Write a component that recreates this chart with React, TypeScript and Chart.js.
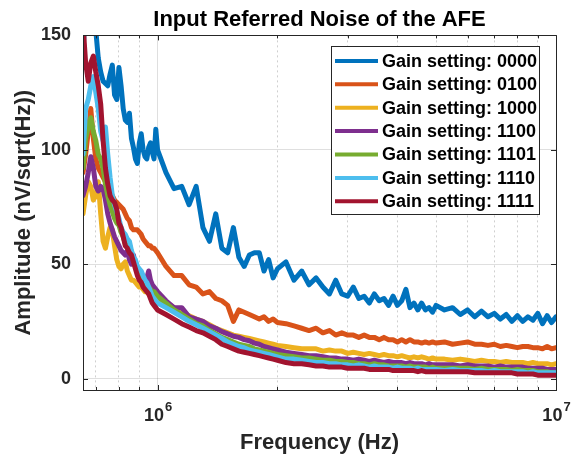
import React, { useEffect, useRef } from "react";
import { Chart, registerables } from "chart.js";

Chart.register(...registerables);

// ---------------- data ----------------
const FREQ_MHZ = [
  0.65, 0.66, 0.67, 0.68, 0.69, 0.7, 0.71, 0.72, 0.73, 0.74,
  0.75, 0.76, 0.77, 0.78, 0.79, 0.8, 0.81, 0.82, 0.83, 0.84,
  0.85, 0.86, 0.87, 0.88, 0.89, 0.9, 0.91, 0.92, 0.93, 0.94,
  0.95, 0.96, 0.97, 0.98, 0.99, 1.0,
  1.05, 1.1, 1.15, 1.2, 1.25, 1.3, 1.35, 1.4, 1.45, 1.5,
  1.55, 1.6, 1.65, 1.7, 1.75, 1.8, 1.85, 1.9, 1.95, 2.0,
  2.1, 2.2, 2.3, 2.4, 2.5, 2.6, 2.7, 2.8, 2.9, 3.0,
  3.1, 3.2, 3.3, 3.4, 3.5, 3.6, 3.7, 3.8, 3.9, 4.0,
  4.1, 4.2, 4.3, 4.4, 4.5, 4.6, 4.7, 4.8, 4.9, 5.0,
  5.25, 5.5, 5.75, 6.0, 6.25, 6.5, 6.75, 7.0, 7.25, 7.5,
  7.75, 8.0, 8.25, 8.5, 8.75, 9.0, 9.25, 9.5, 9.75, 10.0,
];

const GAIN_0000 = [
  144, 160, 165, 162, 158, 152, 140, 134, 130, 129,
  128, 133, 137, 124, 122, 136, 128, 118, 113, 112,
  116, 105, 101, 96, 94, 103, 107, 100, 97, 96,
  101, 103, 99, 96, 109, 100,
  90, 83, 84, 76, 84, 66, 60, 72, 57, 55,
  66, 53, 49, 54, 55, 55, 47, 52, 44, 48,
  51, 43, 47, 41, 44, 40, 37, 43, 37, 36,
  40, 35, 36, 33, 37, 34, 35, 32, 36, 32,
  34, 39, 31, 33, 30, 33, 30, 31, 29, 32,
  30, 31, 28, 30, 27, 29.5, 27, 28.5, 26, 28,
  25, 27.5, 25, 27, 25.5, 28.5, 24, 27.5, 24.5, 27,
];

const GAIN_0100 = [
  90, 98, 108, 118, 105, 96, 92, 90, 88, 86,
  84, 82, 80, 78, 77, 76, 75, 74, 72, 70,
  69, 66, 65, 65, 65, 64, 63, 61, 60, 59,
  58, 58, 57, 57, 56, 55,
  49, 45, 45, 41, 40, 37, 38, 35, 34, 32,
  25, 30, 29, 28, 27, 26, 27, 25, 26, 24.5,
  24, 23, 22, 21, 22, 20, 21, 19, 20, 19,
  19, 18, 19, 18, 18, 17, 18, 17, 17, 16,
  17, 16, 17, 16, 16, 15.5, 16, 15.5, 16, 15.5,
  16, 15, 15.5, 16, 15, 15, 14.5, 15, 14, 14.5,
  14, 13.5, 14, 14, 13.5, 13.5, 13, 14, 13, 13.5,
];

const GAIN_1000 = [
  72, 80, 86, 84, 78, 80, 86, 72, 60, 57,
  62, 66, 65, 58, 52, 49, 48, 50, 51, 47,
  45, 43, 43, 42, 41, 40, 40, 39, 38, 38,
  37, 37, 36, 35, 35, 34,
  33, 31, 29, 27.5, 26, 25, 23.5, 22, 21, 20,
  19, 18.5, 18, 17.5, 17, 16.5, 16, 15.5, 15, 14.5,
  14, 13.5, 13, 13, 13, 12, 12.5, 12, 12, 11,
  11.5, 11, 10.5, 11, 10.5, 10, 10.5, 10, 10, 9.5,
  10, 9.5, 9, 9.5, 9, 9.5, 9, 8.5, 9, 8.5,
  8.5, 8, 8.5, 8, 7.5, 8, 7.5, 7.5, 7, 7.5,
  7, 7, 7, 6.5, 7, 6.5, 6.5, 6.5, 6, 6.5,
];

const GAIN_1100 = [
  80, 84, 90, 97, 92, 84, 82, 84, 83, 78,
  72, 68, 65, 62, 60, 58, 56, 55, 54, 56,
  52, 50, 54, 50, 47, 46, 45, 44, 43, 44,
  47, 43, 41, 40, 39, 38,
  34, 31, 31, 27, 26, 25, 23, 22, 20.5, 19.5,
  18.5, 18, 17, 16.5, 15.5, 15, 14, 13.5, 13, 12.5,
  11.5, 11, 10.5, 10, 10, 9.5, 9, 9, 8.5, 8.5,
  8, 8.5, 8, 7.5, 8, 7.5, 7, 7.5, 7, 7,
  7, 6.5, 7, 6.5, 6.5, 6.5, 6, 6.5, 6, 6,
  6, 6, 5.5, 6, 5.5, 5.5, 5.5, 5, 5.5, 5,
  5, 5, 5, 4.5, 4.5, 4.5, 4.5, 4, 4, 4,
];

const GAIN_1101 = [
  92, 105, 110, 114, 108, 104, 98, 96, 92, 85,
  80, 76, 73, 70, 68, 67, 64, 62, 59, 58,
  56, 54, 52, 49, 47, 46, 45, 43, 42, 41,
  40, 39, 38, 38, 37, 36,
  33, 30, 28, 26, 24, 23, 21, 19.5, 18, 17,
  16, 15, 14.5, 14, 13, 12.5, 12, 11.5, 11, 10.5,
  10, 9.5, 9, 9, 8.5, 8, 8, 7.5, 7.5, 7,
  7, 6.5, 6.5, 6, 6.5, 6, 6, 5.5, 5.5, 5.5,
  5.5, 5, 5.5, 5, 5, 5, 5, 4.5, 5, 4.5,
  4.5, 4.5, 4.5, 4.5, 4, 4.5, 4, 4, 4, 4,
  3.5, 4, 3.5, 3.5, 3.5, 3, 3, 3, 2.5, 2.5,
];

const GAIN_1110 = [
  98, 118, 122, 128, 132, 125, 118, 108, 104, 110,
  98, 88, 80, 76, 73, 70, 66, 64, 63, 61,
  60, 56, 53, 52, 49, 48, 47, 45, 43, 42,
  40, 38, 36, 35, 34, 33,
  31, 29, 27, 25, 23.5, 22, 20.5, 19, 17.5, 16,
  15, 14, 13.5, 12.5, 12, 11.5, 11, 10.5, 10, 9.5,
  8.5, 8.5, 8, 7.5, 7, 7, 6.5, 6.5, 6, 6,
  5.5, 6, 5.5, 5, 5.5, 5, 5, 5, 4.5, 5,
  4.5, 4.5, 4.5, 4, 4.5, 4, 4, 4, 4, 4,
  3.5, 4, 3.5, 3.5, 3.5, 3.5, 3, 3.5, 3, 3,
  3, 3, 3, 2.5, 3, 2.5, 2.5, 2.5, 2.5, 2.5,
];

const GAIN_1111 = [
  155, 138, 130, 138, 141, 134, 128, 120, 104, 92,
  85, 80, 78, 77, 74, 68, 66, 62, 58, 57,
  55, 54, 51, 48, 45, 43, 42, 40, 39, 38,
  37, 35, 33, 32, 31, 30,
  28, 26, 24, 22.5, 21, 20, 18.5, 17, 15, 14,
  13, 12, 11.5, 11, 10.5, 10, 9.5, 9, 8.5, 8,
  7, 6.5, 6.5, 6, 5.5, 5.5, 5, 5, 5, 4.5,
  4.5, 4.5, 4.5, 4, 4, 4, 4, 4, 3.5, 3.5,
  3.5, 3.5, 3.5, 3.5, 3, 3.5, 3, 3, 3, 3,
  3, 3, 3, 3, 2.5, 2.5, 2.5, 2.5, 2.5, 2.5,
  2.5, 2, 2, 2, 2, 1.5, 1.5, 1.5, 1.5, 1.5,
];

const SERIES_LABELS = [
  "Gain setting: 0000",
  "Gain setting: 0100",
  "Gain setting: 1000",
  "Gain setting: 1100",
  "Gain setting: 1101",
  "Gain setting: 1110",
  "Gain setting: 1111",
];
const SERIES_VALUES = [GAIN_0000, GAIN_0100, GAIN_1000, GAIN_1100, GAIN_1101, GAIN_1110, GAIN_1111];
const SERIES_COLORS = ["#0072BD", "#D95319", "#EDB120", "#7E2F8E", "#77AC30", "#4DBEEE", "#A2142F"];

const X_TICKS = [7e5, 8e5, 9e5, 1e6, 2e6, 3e6, 4e6, 5e6, 6e6, 7e6, 8e6, 9e6, 1e7];
const X_LABELED = [
  { value: 1e6, base: "10", exp: "6" },
  { value: 1e7, base: "10", exp: "7" },
];
const Y_TICKS = [0, 50, 100, 150];

const TITLE = "Input Referred Noise of the AFE";
const X_TITLE = "Frequency (Hz)";
const Y_TITLE = "Amplitude (nV/sqrt(Hz))";

// ---------------- style ----------------
const FONT = "'Liberation Sans', Arial, Helvetica, sans-serif";
const AXIS_COLOR = "#262626";
const GRID_MAJOR = "rgba(38,38,38,0.15)";
const GRID_MINOR = "rgba(38,38,38,0.22)";

const isMajorX = (v: number) => v === 1e6 || v === 1e7;

const boxPlugin = {
  id: "matlabBox",
  afterDatasetsDraw(chart: any) {
    const { ctx, chartArea: a, scales } = chart;
    ctx.save();
    ctx.strokeStyle = AXIS_COLOR;
    ctx.lineWidth = 1;
    ctx.beginPath();
    ctx.rect(Math.round(a.left) + 0.5, Math.round(a.top) + 0.5, Math.round(a.right - a.left), Math.round(a.bottom - a.top));
    ctx.stroke();
    ctx.beginPath();
    for (const v of Y_TICKS) {
      const y = Math.round(scales.y.getPixelForValue(v)) + 0.5;
      ctx.moveTo(a.left, y);
      ctx.lineTo(a.left + 5, y);
      ctx.moveTo(a.right, y);
      ctx.lineTo(a.right - 5, y);
    }
    for (const v of X_TICKS) {
      const x = Math.round(scales.x.getPixelForValue(v)) + 0.5;
      const len = isMajorX(v) ? 5 : 3;
      ctx.moveTo(x, a.bottom);
      ctx.lineTo(x, a.bottom - len);
      ctx.moveTo(x, a.top);
      ctx.lineTo(x, a.top + len);
    }
    ctx.stroke();
    ctx.restore();
  },
  afterDraw(chart: any) {
    const { ctx, chartArea: a, scales } = chart;
    ctx.save();
    // x tick labels with superscript exponents
    ctx.fillStyle = AXIS_COLOR;
    ctx.textBaseline = "alphabetic";
    for (const t of X_LABELED) {
      const x = scales.x.getPixelForValue(t.value);
      ctx.font = `bold 18px ${FONT}`;
      const wb = ctx.measureText(t.base).width;
      ctx.font = `bold 13px ${FONT}`;
      const we = ctx.measureText(t.exp).width;
      const start = x - (wb + we) / 2;
      ctx.font = `bold 18px ${FONT}`;
      ctx.textAlign = "left";
      ctx.fillText(t.base, start, a.bottom + 31);
      ctx.font = `bold 13px ${FONT}`;
      ctx.fillText(t.exp, start + wb + 1, a.bottom + 21);
    }

    // legend box
    const rowH = 23.4;
    const w = 208;
    const h = 168;
    const lx = a.right - 17 - w;
    const ly = a.top + 10.5;
    ctx.fillStyle = "#ffffff";
    ctx.fillRect(lx, ly, w, h);
    ctx.strokeStyle = AXIS_COLOR;
    ctx.lineWidth = 1;
    ctx.strokeRect(Math.round(lx) + 0.5, Math.round(ly) + 0.5, w, h);
    ctx.font = `bold 18px ${FONT}`;
    ctx.textBaseline = "middle";
    ctx.textAlign = "left";
    chart.data.datasets.forEach((ds: any, i: number) => {
      const y = ly + 15 + i * rowH;
      ctx.strokeStyle = ds.borderColor;
      ctx.lineWidth = 4;
      ctx.beginPath();
      ctx.moveTo(lx + 4, y);
      ctx.lineTo(lx + 47, y);
      ctx.stroke();
      ctx.fillStyle = "#000000";
      ctx.fillText(ds.label, lx + 51, y + 1);
    });
    ctx.restore();
  },
};

export default function App() {
  const ref = useRef<HTMLCanvasElement | null>(null);

  useEffect(() => {
    if (!ref.current) return;
    const datasets = SERIES_VALUES.map((vals, i) => ({
      label: SERIES_LABELS[i],
      data: FREQ_MHZ.map((f, k) => ({ x: f * 1e6, y: vals[k] })),
      borderColor: SERIES_COLORS[i],
      backgroundColor: SERIES_COLORS[i],
      borderWidth: 5,
      pointRadius: 0,
      tension: 0,
      borderJoinStyle: "round" as const,
      borderCapStyle: "round" as const,
      clip: 0,
      order: SERIES_VALUES.length - i,
    }));

    const chart = new Chart(ref.current, {
      type: "line",
      data: { datasets },
      plugins: [boxPlugin],
      options: {
        animation: false,
        responsive: false,
        maintainAspectRatio: false,
        devicePixelRatio: 1,
        layout: { padding: { left: 0, right: 23, top: 0, bottom: 0 } },
        plugins: {
          legend: { display: false },
          tooltip: { enabled: false },
          title: {
            display: true,
            fullSize: false,
            text: TITLE,
            color: "#000000",
            font: { family: FONT, size: 22, weight: "bold", lineHeight: 1.2 },
            padding: { top: 7, bottom: 2 },
          },
        },
        scales: {
          x: {
            type: "logarithmic",
            min: 6.5e5,
            max: 1e7,
            afterBuildTicks: (s: any) => {
              s.ticks = X_TICKS.map((v) => ({ value: v }));
            },
            afterFit: (s: any) => {
              s.height = 71;
            },
            ticks: {
              autoSkip: false,
              maxRotation: 0,
              callback: () => "",
            },
            grid: {
              drawTicks: false,
              color: (c: any) => (c.tick && isMajorX(c.tick.value) ? GRID_MAJOR : GRID_MINOR),
              lineWidth: 1,
            },
            border: {
              display: true,
              color: AXIS_COLOR,
              width: 1,
              dash: (c: any) => (c.tick && !isMajorX(c.tick.value) ? [2, 3] : []),
            },
            title: {
              display: true,
              text: X_TITLE,
              color: AXIS_COLOR,
              font: { family: FONT, size: 22, weight: "bold", lineHeight: 1.2 },
              padding: { top: 0, bottom: 5 },
            },
          },
          y: {
            type: "linear",
            min: -5,
            max: 150,
            afterBuildTicks: (s: any) => {
              s.ticks = Y_TICKS.map((v) => ({ value: v }));
            },
            afterFit: (s: any) => {
              s.width = 83;
            },
            ticks: {
              color: AXIS_COLOR,
              padding: 12,
              font: { family: FONT, size: 18, weight: "bold" },
              callback: (v: any) => String(v),
            },
            grid: {
              drawTicks: false,
              color: GRID_MAJOR,
              lineWidth: 1,
            },
            border: { display: true, color: AXIS_COLOR, width: 1 },
            title: {
              display: true,
              text: Y_TITLE,
              color: AXIS_COLOR,
              font: { family: FONT, size: 22, weight: "bold", lineHeight: 1.2 },
              padding: { top: 11, bottom: 0 },
            },
          },
        },
      },
    } as any);

    return () => chart.destroy();
  }, []);

  return (
    <div style={{ position: "absolute", left: 0, top: 0, width: 579, height: 461, background: "#ffffff" }}>
      <canvas ref={ref} width={579} height={461} style={{ display: "block", width: 579, height: 461 }} />
    </div>
  );
}
